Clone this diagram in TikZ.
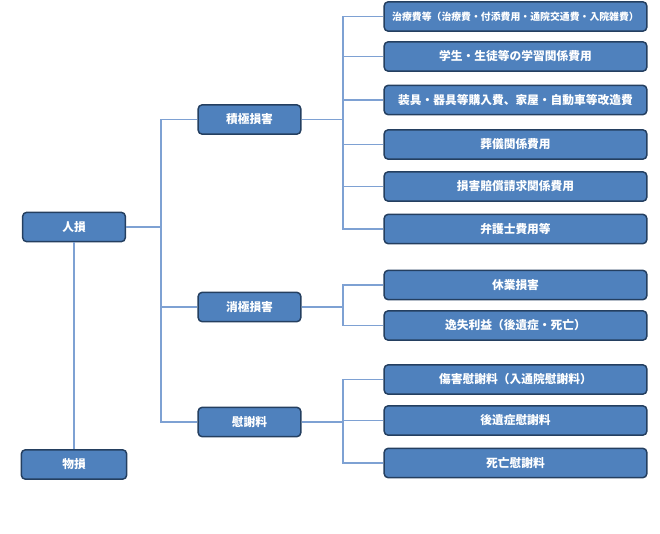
\documentclass[tikz,border=0pt]{standalone}
\usepackage{fontspec}
\newfontfamily\jpfont{Noto Sans CJK JP}
\usetikzlibrary{positioning}
\definecolor{boxfill}{HTML}{4F81BD}
\definecolor{boxline}{HTML}{243F60}
\definecolor{connline}{HTML}{7EA1D3}
\tikzset{
  basebox/.style={draw=boxline, fill=boxfill, line width=1.1pt, rounded corners=3pt,
    text=white, font=\jpfont\bfseries\fontsize{8.8}{10}\selectfont, inner sep=0pt,
    minimum height=22pt},
  topbox/.style={basebox, minimum width=77pt},
  midbox/.style={basebox, minimum width=77pt},
  leafbox/.style={basebox, minimum width=197pt},
  conn/.style={draw=connline, line width=0.8pt}
}
\begin{document}
\begin{tikzpicture}[x=0.75pt, y=-0.75pt]

% Page frame (660 x 533 px)
\useasboundingbox (0,0) rectangle (660,533);

% First level
\node[topbox] (jin) at (74, 227) {人損};
\node[topbox, minimum width=79pt] (butsu) at (74, 464.5) {物損};

% Second level
\node[midbox] (seki)  at (249.5, 119.5) {積極損害};
\node[midbox] (shou)  at (249.5, 307)   {消極損害};
\node[midbox] (isha)  at (249.5, 422)   {慰謝料};

% Leaves (x centre 515.5)
\def\colL{515.5}
\node[leafbox, font=\jpfont\bfseries\fontsize{7.4}{9}\selectfont] (ryohi) at (\colL, 16.5)
  {治療費等（治療費・付添費用・通院交通費・入院雑費）};
\node[leafbox] (gaku)   at (\colL, 56.5)  {学生・生徒等の学習関係費用};
\node[leafbox] (sogu)   at (\colL, 100)   {装具・器具等購入費、家屋・自動車等改造費};
\node[leafbox] (sogi)   at (\colL, 144.5) {葬儀関係費用};
\node[leafbox] (seikyu) at (\colL, 186.5) {損害賠償請求関係費用};
\node[leafbox] (bengo)  at (\colL, 229)   {弁護士費用等};
\node[leafbox] (kyugyo) at (\colL, 285)   {休業損害};
\node[leafbox] (isshitsu) at (\colL, 325.5) {逸失利益（後遺症・死亡）};
\node[leafbox] (shogai) at (\colL, 379.5) {傷害慰謝料（入通院慰謝料）};
\node[leafbox] (koui)   at (\colL, 420.5) {後遺症慰謝料};
\node[leafbox] (shibo)  at (\colL, 463)   {死亡慰謝料};

% Trunk points
\coordinate (tA) at (161, 227);
\coordinate (tB) at (343, 119.5);
\coordinate (tC) at (343, 307);
\coordinate (tD) at (343, 422);

% Connectors
\draw[conn] (jin.south) -- (butsu.north);
\draw[conn] (jin.east) -- (tA);
\foreach \n in {seki, shou, isha}
  \draw[conn] (tA) |- (\n.west);

\draw[conn] (seki.east) -- (tB);
\foreach \n in {ryohi, gaku, sogu, sogi, seikyu, bengo}
  \draw[conn] (tB) |- (\n.west);

\draw[conn] (shou.east) -- (tC);
\foreach \n in {kyugyo, isshitsu}
  \draw[conn] (tC) |- (\n.west);

\draw[conn] (isha.east) -- (tD);
\foreach \n in {shogai, koui, shibo}
  \draw[conn] (tD) |- (\n.west);

\end{tikzpicture}
\end{document}
